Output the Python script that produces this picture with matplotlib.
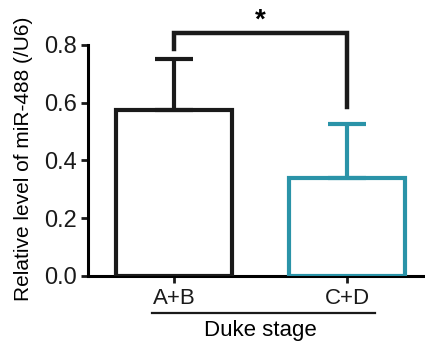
import matplotlib
matplotlib.use("Agg")
import matplotlib.pyplot as plt
import matplotlib.transforms as mtransforms
import numpy as np

plt.rcParams["font.family"] = ["Liberation Sans", "DejaVu Sans"]

groups = ["A+B", "C+D"]
means = [0.575, 0.338]
errors = [0.178, 0.187]
colors = ["#1a1a1a", "#2a93a8"]

fig = plt.figure(figsize=(4.25, 3.45), dpi=100)
ax = fig.add_axes([0.207, 0.2, 0.793, 0.7533])

x = np.arange(len(groups))
lw = 3.0
for xi, m, e, c in zip(x, means, errors, colors):
    ax.bar(xi, m, width=0.67, facecolor="none", edgecolor=c, linewidth=lw, zorder=3)
    ax.errorbar(xi, m, yerr=[[0], [e]], fmt="none", ecolor=c, elinewidth=lw,
                capsize=14, capthick=lw, zorder=3)

ax.set_xlim(-0.497, 1.45)
ax.set_ylim(0, 0.9)
ax.set_yticks([0.0, 0.2, 0.4, 0.6, 0.8])
ax.set_yticklabels(["0.0", "0.2", "0.4", "0.6", "0.8"])
ax.set_xticks(x)
ax.set_xticklabels(groups)
for s in ["top", "right"]:
    ax.spines[s].set_visible(False)
ax.spines["left"].set_bounds(0, 0.8)
ax.spines["left"].set_linewidth(2.2)
ax.spines["bottom"].set_linewidth(2.2)
ax.tick_params(axis="y", width=2.0, length=5, labelsize=17, colors="#1a1a1a", pad=3)
ax.tick_params(axis="x", width=2.0, length=5, labelsize=16, colors="#1a1a1a", pad=4)
ax.set_ylabel("Relative level of miR-488 (/U6)", fontsize=15)
ax.yaxis.set_label_coords(-0.163, 0.45)

# significance bracket
ax.plot([0, 0, 1, 1], [0.785, 0.84, 0.84, 0.585], color="#1a1a1a", lw=3.2,
        solid_joinstyle="miter", clip_on=False)
ax.text(0.5, 0.84, "*", ha="center", va="bottom", fontsize=20, fontweight="bold")

# group line and title under the ticks
trans = mtransforms.blended_transform_factory(ax.transData, fig.transFigure)
ax.plot([-0.127, 1.162], [0.093, 0.093], color="#1a1a1a", lw=1.6,
        transform=trans, clip_on=False)
ax.text(0.5, 0.043, "Duke stage", ha="center", va="center", fontsize=16,
        transform=trans)

fig.savefig("out.png", dpi=100)
